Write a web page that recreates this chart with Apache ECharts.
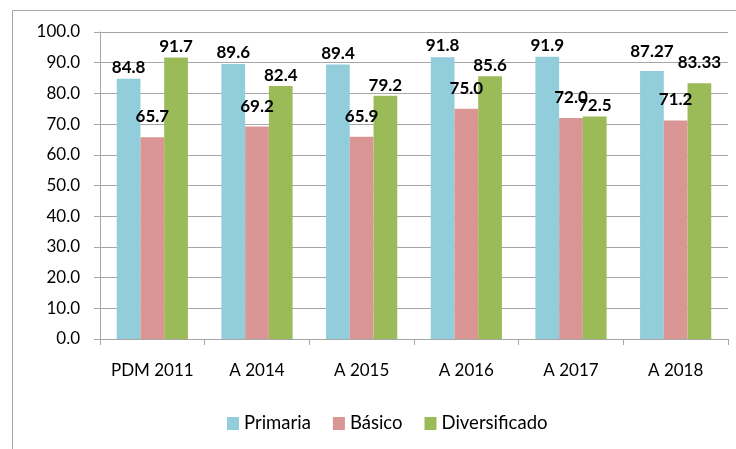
<!DOCTYPE html>
<html>
<head>
<meta charset="utf-8">
<script src="https://cdn.jsdelivr.net/npm/echarts@6/dist/echarts.min.js"></script>
<style>
  html, body { margin: 0; padding: 0; background: #fff; }
  #chart { width: 736px; height: 449px; }
</style>
</head>
<body>
<div id="chart"></div>
<script>
// categorias del eje x
var categories = ["PDM 2011", "A 2014", "A 2015", "A 2016", "A 2017", "A 2018"];
var seriesNames = ["Primaria", "Básico", "Diversificado"];
var primaria = [84.8, 89.6, 89.4, 91.8, 91.9, 87.27];
var basico = [65.7, 69.2, 65.9, 75.0, 72.0, 71.2];
var diversificado = [91.7, 82.4, 79.2, 85.6, 72.5, 83.33];
var colors = ["#92CDDC", "#D99694", "#9BBB59"];
// separacion de la etiqueta sobre la barra (px), como en el original
var labelGaps = [
  [3, 3, 3, 3, 3, 11],
  [12, 12, 12, 12, 12, 12],
  [2, 2, 2, 2, 2, 12]
];

var font = "Lato, 'Open Sans', sans-serif";

function fmt(v) {
  // 1 decimal salvo que el dato traiga 2
  return Number.isInteger(Math.round(v * 100) / 10) ? v.toFixed(1) : String(v);
}

var chart = echarts.init(document.getElementById("chart"));

function barSeries(idx, data) {
  return {
    name: seriesNames[idx],
    type: "bar",
    data: data.map(function (v, i) {
      return { value: v, label: { distance: labelGaps[idx][i] } };
    }),
    barGap: "0%",
    barCategoryGap: "32%",
    itemStyle: { color: colors[idx] },
    label: {
      show: true,
      position: "top",
      color: "#000",
      fontWeight: "bold",
      fontSize: 17,
      fontFamily: font,
      formatter: function (p) { return fmt(p.value); }
    }
  };
}

chart.setOption({
  animation: false,
  graphic: [{
    type: "rect",
    shape: { x: 12.5, y: 10.5, width: 740, height: 460 },
    style: { fill: null, stroke: "#a6a6a6", lineWidth: 1 },
    silent: true
  }],
  grid: { left: 100, right: 8, top: 32, bottom: 110 },
  legend: {
    bottom: 11,
    left: 222,
    itemWidth: 12,
    itemHeight: 13,
    itemGap: 22,
    icon: "rect",
    data: seriesNames,
    textStyle: { fontSize: 18.5, fontFamily: font, color: "#000" }
  },
  xAxis: {
    type: "category",
    data: categories,
    axisLine: { lineStyle: { color: "#a6a6a6" } },
    axisTick: { show: true, interval: 0, length: 6, lineStyle: { color: "#a6a6a6" } },
    axisLabel: { interval: 0, color: "#000", fontSize: 17, fontFamily: font, margin: 23 }
  },
  yAxis: {
    type: "value",
    min: 0,
    max: 100,
    interval: 10,
    axisLine: { show: true, lineStyle: { color: "#a6a6a6" } },
    axisTick: { show: true, length: 6, lineStyle: { color: "#a6a6a6" } },
    splitLine: { lineStyle: { color: "#a6a6a6" } },
    axisLabel: {
      color: "#000",
      fontSize: 17,
      fontFamily: font,
      margin: 20,
      formatter: function (v) { return v.toFixed(1); }
    }
  },
  series: [
    barSeries(0, primaria),
    barSeries(1, basico),
    barSeries(2, diversificado)
  ]
});
</script>
</body>
</html>
